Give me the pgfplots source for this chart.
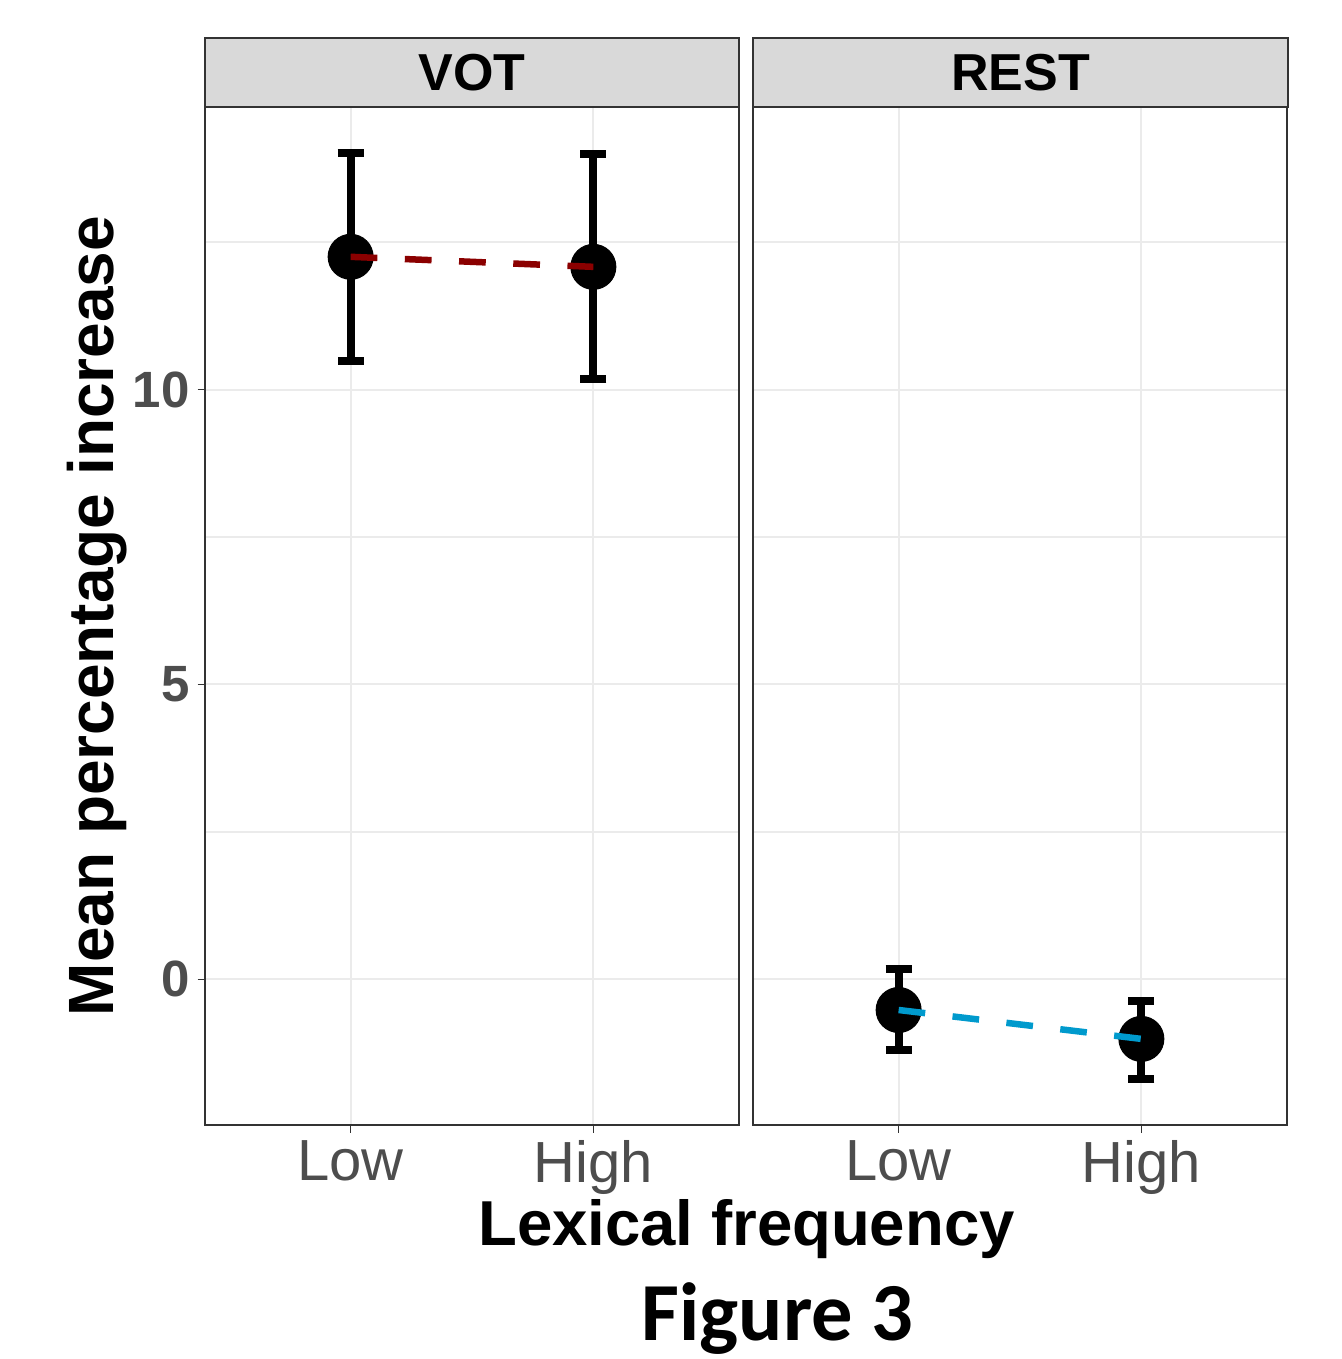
\documentclass[border=0pt]{standalone}
\usepackage{pgfplots}
\pgfplotsset{compat=1.18}
\usepackage{fontspec}
\setmainfont{Liberation Sans}
\newfontfamily\carlito{Carlito}

\definecolor{grid92}{HTML}{EBEBEB}
\definecolor{gray20}{HTML}{333333}
\definecolor{gray30}{HTML}{4D4D4D}
\definecolor{stripgray}{HTML}{D9D9D9}
\definecolor{votred}{HTML}{8B0000}
\definecolor{restblue}{HTML}{009ACD}

% one facet panel, ggplot theme_bw look (1px = 0.4pt)
\pgfplotsset{
  facet/.style={
    scale only axis, width=213.6pt, height=407.2pt,
    xmin=0.4, xmax=2.6, ymin=-2.47, ymax=14.79,
    xtick={1,2}, xticklabels={Low,High},
    ytick={0,5,10}, minor ytick={2.5,7.5,12.5},
    grid=both,
    major grid style={grid92, line width=0.8pt},
    minor grid style={grid92, line width=0.6pt},
    axis line style={gray20, line width=0.7pt},
    tick align=outside, major tick length=3pt, minor tick length=0pt,
    tick style={gray20, line width=0.6pt},
    xtick pos=bottom, ytick pos=left,
    clip marker paths=true,
    xticklabel style={font=\fontsize{23.2}{26}\selectfont, text=gray30,
      inner sep=0pt, anchor=north, yshift=-3pt},
    yticklabel style={font=\bfseries\fontsize{20.4}{24}\selectfont, text=gray30,
      inner sep=0pt, anchor=east, xshift=-3pt},
    /pgf/number format/assume math mode=true,
  },
  errs/.style={only marks, mark=*, mark size=9pt, black,
    error bars/.cd, y dir=both, y explicit,
    error bar style={line width=3.2pt, black},
    error mark options={rotate=90, mark size=5.2pt, line width=3.2pt, black}},
  trend/.style={no marks, line width=2.6pt, dash pattern=on 10.7pt off 11pt},
}

\begin{document}
\begin{tikzpicture}
\path[use as bounding box] (0pt,0pt) rectangle (536.8pt,-543.6pt);

% VOT panel
\begin{axis}[facet, at={(82pt,-450pt)}, anchor=south west,
  ylabel={Mean percentage increase},
  ylabel style={font=\bfseries\fontsize{25.6}{30}\selectfont,
    at={(axis description cs:-0.202,0.5)}, anchor=center},
  xlabel={Lexical frequency},
  xlabel style={font=\bfseries\fontsize{25.4}{30}\selectfont,
    at={(axis description cs:1.0141,-0.1179)}, anchor=base},
]
\addplot[errs] coordinates {
  (1,12.25) +- (0,1.76)
  (2,12.08) +- (0,1.91)
};
\addplot[trend, votred] coordinates {(1,12.25) (2,12.08)};
\end{axis}

% REST panel
\begin{axis}[facet, at={(301.2pt,-450pt)}, anchor=south west,
  yticklabels={}, ytick style={draw=none}]
\addplot[errs] coordinates {
  (1,-0.52) += (0,0.70) -= (0,0.67)
  (2,-1.01) += (0,0.65) -= (0,0.68)
};
\addplot[trend, restblue] coordinates {(1,-0.52) (2,-1.01)};
\end{axis}

% facet strips
\draw[fill=stripgray, draw=gray20, line width=0.7pt] (82pt,-42.8pt) rectangle (295.6pt,-15.2pt);
\draw[fill=stripgray, draw=gray20, line width=0.7pt] (301.2pt,-42.8pt) rectangle (515.2pt,-15.2pt);
\node[font=\bfseries\fontsize{20.8}{24}\selectfont] at (188.8pt,-29pt) {VOT};
\node[font=\bfseries\fontsize{20.8}{24}\selectfont] at (408.2pt,-29pt) {REST};

\node[anchor=base, font=\carlito\bfseries\fontsize{33}{38}\selectfont] at (311pt,-536pt) {Figure 3};
\end{tikzpicture}
\end{document}
